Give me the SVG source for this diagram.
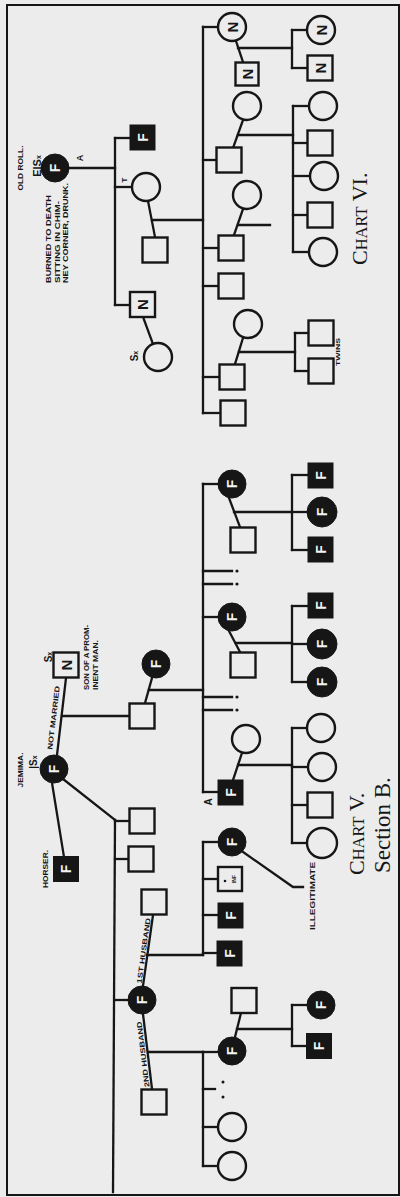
<svg xmlns="http://www.w3.org/2000/svg" width="400" height="1197" viewBox="0 0 400 1197">
<style>
.l{stroke:#161616;stroke-width:2.3;fill:none;stroke-linecap:square}
.o{fill:#ececec;stroke:#161616;stroke-width:2.4}
.k{fill:#161616;stroke:#161616;stroke-width:1}
.fl{font-family:"Liberation Sans",Arial,sans-serif;font-weight:bold;font-size:14px;fill:#f2f2f2;text-anchor:middle}
.nl{font-family:"Liberation Sans",Arial,sans-serif;font-weight:bold;font-size:15px;fill:#161616;text-anchor:middle}
.t{font-family:"Liberation Sans",Arial,sans-serif;font-weight:bold;font-size:7px;fill:#161616}
.tm{text-anchor:middle}
.s{font-family:"Liberation Serif","Times New Roman",serif;font-size:22px;fill:#161616}
</style>
<rect x="0" y="0" width="400" height="1197" fill="#ececec"/>
<rect x="7" y="5" width="392" height="1190" fill="none" stroke="#161616" stroke-width="2"/>

<g id="connectors" class="l">
<line x1="69" y1="168" x2="115" y2="168"/>
<line x1="115" y1="138" x2="115" y2="305"/>
<line x1="115" y1="138" x2="130" y2="138"/>
<line x1="115" y1="187" x2="132" y2="187"/>
<line x1="148" y1="201" x2="155" y2="237"/>
<line x1="152" y1="220" x2="203" y2="220"/>
<line x1="115" y1="305" x2="130" y2="305"/>
<line x1="143" y1="317" x2="153" y2="344"/>
<line x1="203" y1="27" x2="203" y2="413"/>
<line x1="203" y1="27" x2="218" y2="27"/>
<line x1="236" y1="41" x2="243" y2="62"/>
<line x1="238" y1="48" x2="292" y2="48"/>
<line x1="292" y1="30" x2="292" y2="68"/>
<line x1="292" y1="30" x2="307" y2="30"/>
<line x1="292" y1="68" x2="307" y2="68"/>
<line x1="203" y1="160" x2="217" y2="160"/>
<line x1="243" y1="120" x2="233" y2="148"/>
<line x1="238" y1="135" x2="293" y2="135"/>
<line x1="293" y1="106" x2="293" y2="252"/>
<line x1="293" y1="106" x2="309" y2="106"/>
<line x1="293" y1="143" x2="308" y2="143"/>
<line x1="293" y1="176" x2="310" y2="176"/>
<line x1="293" y1="215" x2="308" y2="215"/>
<line x1="293" y1="252" x2="309" y2="252"/>
<line x1="203" y1="248" x2="219" y2="248"/>
<line x1="243" y1="209" x2="234" y2="235"/>
<line x1="238" y1="225" x2="270" y2="225"/>
<line x1="203" y1="286" x2="219" y2="286"/>
<line x1="203" y1="377" x2="220" y2="377"/>
<line x1="243" y1="338" x2="235" y2="364"/>
<line x1="239" y1="352" x2="295" y2="352"/>
<line x1="295" y1="333" x2="295" y2="371"/>
<line x1="295" y1="333" x2="308" y2="333"/>
<line x1="295" y1="371" x2="308" y2="371"/>
<line x1="203" y1="413" x2="221" y2="413"/>
<line x1="66" y1="678" x2="57" y2="755"/>
<line x1="62" y1="716" x2="130" y2="716"/>
<line x1="145" y1="703" x2="152" y2="678"/>
<line x1="149" y1="690" x2="203" y2="690"/>
<line x1="203" y1="484" x2="203" y2="792"/>
<line x1="203" y1="484" x2="218" y2="484"/>
<line x1="229" y1="498" x2="240" y2="527"/>
<line x1="234" y1="512" x2="292" y2="512"/>
<line x1="292" y1="475" x2="292" y2="550"/>
<line x1="292" y1="475" x2="308" y2="475"/>
<line x1="292" y1="512" x2="307" y2="512"/>
<line x1="292" y1="550" x2="308" y2="550"/>
<line x1="203" y1="571" x2="232" y2="571"/>
<line x1="203" y1="584" x2="232" y2="584"/>
<line x1="203" y1="617" x2="218" y2="617"/>
<line x1="229" y1="631" x2="240" y2="652"/>
<line x1="236" y1="643" x2="292" y2="643"/>
<line x1="292" y1="606" x2="292" y2="682"/>
<line x1="292" y1="606" x2="308" y2="606"/>
<line x1="292" y1="644" x2="307" y2="644"/>
<line x1="292" y1="682" x2="307" y2="682"/>
<line x1="203" y1="697" x2="232" y2="697"/>
<line x1="203" y1="710" x2="232" y2="710"/>
<line x1="203" y1="792" x2="218" y2="792"/>
<line x1="242" y1="753" x2="233" y2="780"/>
<line x1="238" y1="765" x2="292" y2="765"/>
<line x1="292" y1="728" x2="292" y2="843"/>
<line x1="292" y1="728" x2="307" y2="728"/>
<line x1="292" y1="767" x2="308" y2="767"/>
<line x1="292" y1="805" x2="308" y2="805"/>
<line x1="292" y1="843" x2="307" y2="843"/>
<line x1="52" y1="783" x2="64" y2="857"/>
<line x1="63" y1="779" x2="115" y2="820"/>
<line x1="115" y1="820" x2="113" y2="1192"/>
<line x1="115" y1="821" x2="130" y2="821"/>
<line x1="115" y1="859" x2="129" y2="859"/>
<line x1="115" y1="1000" x2="128" y2="1000"/>
<line x1="153" y1="915" x2="143" y2="986"/>
<line x1="147" y1="955" x2="203" y2="955"/>
<line x1="203" y1="842" x2="203" y2="955"/>
<line x1="203" y1="842" x2="218" y2="842"/>
<line x1="203" y1="879" x2="218" y2="879"/>
<line x1="203" y1="915" x2="218" y2="915"/>
<line x1="203" y1="953" x2="217" y2="953"/>
<polyline points="243,852 293,887 303,887"/>
<line x1="143" y1="1014" x2="152" y2="1089"/>
<line x1="148" y1="1052" x2="203" y2="1052"/>
<line x1="203" y1="1052" x2="203" y2="1166"/>
<line x1="203" y1="1052" x2="218" y2="1052"/>
<line x1="203" y1="1089" x2="215" y2="1089"/>
<line x1="203" y1="1127" x2="218" y2="1127"/>
<line x1="203" y1="1166" x2="218" y2="1166"/>
<line x1="235" y1="1037" x2="241" y2="1013"/>
<line x1="237" y1="1029" x2="292" y2="1029"/>
<line x1="292" y1="1005" x2="292" y2="1046"/>
<line x1="292" y1="1005" x2="307" y2="1005"/>
<line x1="292" y1="1046" x2="306" y2="1046"/>
</g>
<g id="tick-marks" fill="#161616">
<circle cx="237" cy="571" r="1.6"/><circle cx="237" cy="584" r="1.6"/>
<circle cx="237" cy="697" r="1.6"/><circle cx="237" cy="710" r="1.6"/>
<circle cx="223" cy="1082" r="1.5"/><circle cx="223" cy="1097" r="1.5"/>
</g>

<g id="old-roll"><circle class="k" cx="55" cy="168" r="14"/><text class="fl" transform="translate(55,168) rotate(-90)" dy="5">F</text>
<text class="t tm" transform="translate(20,168) rotate(-90)" dy="2.5" textLength="45" lengthAdjust="spacingAndGlyphs">OLD ROLL.</text>
<text class="t tm" style="font-size:11px" transform="translate(37,166) rotate(-90)" dy="4">E|S<tspan style="font-size:7px">x</tspan></text>
<text class="t tm" style="font-size:9px" transform="translate(80,158) rotate(-90)" dy="3">A</text>
<text class="t" transform="translate(51,283) rotate(-90)" textLength="88" lengthAdjust="spacingAndGlyphs">BURNED TO DEATH</text>
<text class="t" transform="translate(59.5,283) rotate(-90)" textLength="82" lengthAdjust="spacingAndGlyphs">SITTING IN CHIM-</text>
<text class="t" transform="translate(68,283) rotate(-90)" textLength="100" lengthAdjust="spacingAndGlyphs">NEY CORNER, DRUNK.</text>
</g>
<g id="vi-f-square"><rect class="k" x="130" y="125" width="25" height="25"/><text class="fl" transform="translate(142.5,137.5) rotate(-90)" dy="5">F</text></g>
<g id="vi-t-circle"><circle class="o" cx="146" cy="187" r="14"/><text class="t tm" style="font-size:8px" transform="translate(124,180) rotate(-90)" dy="3">T</text></g>
<g id="vi-t-husband"><rect class="o" x="142.5" y="237.5" width="25" height="25"/></g>
<g id="vi-n-square"><rect class="o" x="130" y="292" width="25" height="25"/><text class="nl" transform="translate(142.5,304.5) rotate(-90)" dy="5.5">N</text></g>
<g id="vi-sx-circle"><circle class="o" cx="158" cy="357" r="14"/><text class="t tm" style="font-size:10px" transform="translate(134,356) rotate(-90)" dy="3.5">S<tspan style="font-size:7px">x</tspan></text></g>

<g id="vi-c1"><circle class="o" cx="232" cy="27" r="14"/><text class="nl" transform="translate(232,27) rotate(-90)" dy="5.5">N</text></g>
<g id="vi-c1-spouse"><rect class="o" x="235.5" y="62.5" width="23" height="23"/><text class="nl" transform="translate(247,74) rotate(-90)" dy="5.5">N</text></g>
<g id="vi-gc1"><circle class="o" cx="321" cy="30" r="14"/><text class="nl" transform="translate(321,30) rotate(-90)" dy="5.5">N</text></g>
<g id="vi-gc2"><rect class="o" x="307.5" y="55.5" width="25" height="25"/><text class="nl" transform="translate(320,68) rotate(-90)" dy="5.5">N</text></g>
<g id="vi-c2-spouse"><circle class="o" cx="247" cy="106" r="14"/></g>
<g id="vi-c2"><rect class="o" x="216.5" y="147.5" width="25" height="25"/></g>
<g id="vi-gc3"><circle class="o" cx="323" cy="106" r="14"/></g>
<g id="vi-gc4"><rect class="o" x="307.5" y="130.5" width="25" height="25"/></g>
<g id="vi-gc5"><circle class="o" cx="324" cy="176" r="14"/></g>
<g id="vi-gc6"><rect class="o" x="307.5" y="202.5" width="25" height="25"/></g>
<g id="vi-gc7"><circle class="o" cx="323" cy="252" r="14"/></g>
<g id="vi-c3-spouse"><circle class="o" cx="247" cy="195" r="14"/></g>
<g id="vi-c3"><rect class="o" x="218.5" y="235.5" width="25" height="25"/></g>
<g id="vi-c4"><rect class="o" x="218.5" y="273.5" width="25" height="25"/></g>
<g id="vi-c5-spouse"><circle class="o" cx="248" cy="324" r="14"/></g>
<g id="vi-c5"><rect class="o" x="219.5" y="364.5" width="25" height="25"/></g>
<g id="vi-twin1"><rect class="o" x="308.5" y="320.5" width="25" height="25"/></g>
<g id="vi-twin2"><rect class="o" x="308.5" y="358.5" width="25" height="25"/>
<text class="t tm" style="font-size:5.5px" transform="translate(338,352) rotate(-90)" dy="2" textLength="28" lengthAdjust="spacingAndGlyphs">TWINS</text></g>
<g id="vi-c6"><rect class="o" x="220.5" y="400.5" width="25" height="25"/></g>
<text class="s" transform="translate(367,265) rotate(-90)">C<tspan style="font-size:16.5px">HART</tspan> VI.</text>

<g id="n-father"><rect class="o" x="53.5" y="652.5" width="25" height="25"/><text class="nl" transform="translate(66,665) rotate(-90)" dy="5.5">N</text>
<text class="t tm" style="font-size:10px" transform="translate(48,657) rotate(-90)" dy="3.5">S<tspan style="font-size:7px">x</tspan></text>
<text class="t" transform="translate(89,690) rotate(-90)" textLength="65" lengthAdjust="spacingAndGlyphs">SON OF A PROM-</text>
<text class="t" transform="translate(98,690) rotate(-90)" textLength="50" lengthAdjust="spacingAndGlyphs">INENT MAN.</text>
<text class="t tm" transform="translate(56,718) rotate(-83.3)" textLength="64" lengthAdjust="spacingAndGlyphs">NOT MARRIED</text>
</g>
<g id="jemima"><circle class="k" cx="54" cy="769" r="14"/><text class="fl" transform="translate(54,769) rotate(-90)" dy="5">F</text>
<text class="t tm" transform="translate(20,770) rotate(-90)" dy="2.5" textLength="35" lengthAdjust="spacingAndGlyphs">JEMIMA.</text>
<text class="t tm" style="font-size:10px" transform="translate(33,762) rotate(-90)" dy="3.5">|S<tspan style="font-size:7px">x</tspan></text>
</g>
<g id="v-son"><rect class="o" x="129.5" y="703.5" width="25" height="25"/></g>
<g id="v-son-wife"><circle class="k" cx="156" cy="664" r="14"/><text class="fl" transform="translate(156,664) rotate(-90)" dy="5">F</text></g>
<g id="v-c1"><circle class="k" cx="232" cy="484" r="14"/><text class="fl" transform="translate(232,484) rotate(-90)" dy="5">F</text></g>
<g id="v-c1-husband"><rect class="o" x="230.5" y="527.5" width="25" height="25"/></g>
<g id="v-c1-g1"><rect class="k" x="308" y="463" width="25" height="25"/><text class="fl" transform="translate(320.5,475.5) rotate(-90)" dy="5">F</text></g>
<g id="v-c1-g2"><circle class="k" cx="322" cy="512" r="15"/><text class="fl" transform="translate(322,512) rotate(-90)" dy="5">F</text></g>
<g id="v-c1-g3"><rect class="k" x="308" y="537" width="25" height="25"/><text class="fl" transform="translate(320.5,549.5) rotate(-90)" dy="5">F</text></g>
<g id="v-c2"><circle class="k" cx="232" cy="617" r="14"/><text class="fl" transform="translate(232,617) rotate(-90)" dy="5">F</text></g>
<g id="v-c2-husband"><rect class="o" x="230.5" y="652.5" width="25" height="25"/></g>
<g id="v-c2-g1"><rect class="k" x="308" y="593" width="25" height="25"/><text class="fl" transform="translate(320.5,605.5) rotate(-90)" dy="5">F</text></g>
<g id="v-c2-g2"><circle class="k" cx="322" cy="644" r="15"/><text class="fl" transform="translate(322,644) rotate(-90)" dy="5">F</text></g>
<g id="v-c2-g3"><circle class="k" cx="322" cy="682" r="15"/><text class="fl" transform="translate(322,682) rotate(-90)" dy="5">F</text></g>
<g id="v-c3-wife"><circle class="o" cx="246" cy="739" r="14"/></g>
<g id="v-c3"><rect class="k" x="218" y="780" width="25" height="25"/><text class="fl" transform="translate(230.5,792.5) rotate(-90)" dy="5">F</text>
<text class="t tm" style="font-size:10px" transform="translate(208,802) rotate(-90)" dy="3.5">A</text></g>
<g id="v-c3-g1"><circle class="o" cx="321" cy="728" r="14"/></g>
<g id="v-c3-g2"><circle class="o" cx="322" cy="767" r="14"/></g>
<g id="v-c3-g3"><rect class="o" x="307.5" y="792.5" width="25" height="25"/></g>
<g id="v-c3-g4"><circle class="o" cx="322" cy="843" r="15"/></g>
<text class="s" transform="translate(364,875) rotate(-90)">C<tspan style="font-size:16.5px">HART</tspan> V.</text>
<text class="s" style="font-size:23px" transform="translate(390,873) rotate(-90)">Section B.</text>

<g id="horser"><rect class="k" x="53.5" y="856.5" width="25" height="25"/><text class="fl" transform="translate(66,869) rotate(-90)" dy="5">F</text>
<text class="t tm" transform="translate(45,869) rotate(-90)" dy="2.5" textLength="38" lengthAdjust="spacingAndGlyphs">HORSER.</text></g>
<g id="j-c1"><rect class="o" x="129.5" y="808.5" width="25" height="25"/></g>
<g id="j-c2"><rect class="o" x="128.5" y="846.5" width="25" height="25"/></g>
<g id="first-husband"><rect class="o" x="141.5" y="889.5" width="25" height="25"/>
<text class="t tm" transform="translate(146,951) rotate(-82)" textLength="66" lengthAdjust="spacingAndGlyphs">1ST HUSBAND</text></g>
<g id="j-daughter"><circle class="k" cx="142" cy="1000" r="14"/><text class="fl" transform="translate(142,1000) rotate(-90)" dy="5">F</text></g>
<g id="second-husband"><rect class="o" x="141.5" y="1089.5" width="25" height="25"/>
<text class="t tm" transform="translate(145.5,1054) rotate(-96.8)" textLength="66" lengthAdjust="spacingAndGlyphs">2ND HUSBAND</text></g>
<g id="h1-c1"><circle class="k" cx="232" cy="842" r="14"/><text class="fl" transform="translate(232,842) rotate(-90)" dy="5">F</text>
<text class="t tm" transform="translate(312,896) rotate(-90)" dy="2.5" textLength="68" lengthAdjust="spacingAndGlyphs">ILLEGITIMATE</text></g>
<g id="h1-c2"><rect class="o" x="218" y="867" width="24" height="24"/><circle cx="225" cy="881" r="1.3" fill="#161616"/>
<text class="t tm" style="font-size:5px" transform="translate(234,879) rotate(-90)" dy="1.5">INF</text></g>
<g id="h1-c3"><rect class="k" x="218" y="903" width="25" height="25"/><text class="fl" transform="translate(230.5,915.5) rotate(-90)" dy="5">F</text></g>
<g id="h1-c4"><rect class="k" x="217" y="941" width="25" height="25"/><text class="fl" transform="translate(229.5,953.5) rotate(-90)" dy="5">F</text></g>
<g id="h2-c1"><circle class="k" cx="232" cy="1051" r="14"/><text class="fl" transform="translate(232,1051) rotate(-90)" dy="5">F</text></g>
<g id="h2-c1-husband"><rect class="o" x="231.5" y="988" width="25" height="25"/></g>
<g id="h2-g1"><circle class="k" cx="321" cy="1005" r="14"/><text class="fl" transform="translate(321,1005) rotate(-90)" dy="5">F</text></g>
<g id="h2-g2"><rect class="k" x="306.5" y="1033.5" width="25" height="25"/><text class="fl" transform="translate(319,1046) rotate(-90)" dy="5">F</text></g>
<g id="h2-c2"><circle class="o" cx="232" cy="1127" r="14"/></g>
<g id="h2-c3"><circle class="o" cx="232" cy="1166" r="14"/></g>
</svg>
